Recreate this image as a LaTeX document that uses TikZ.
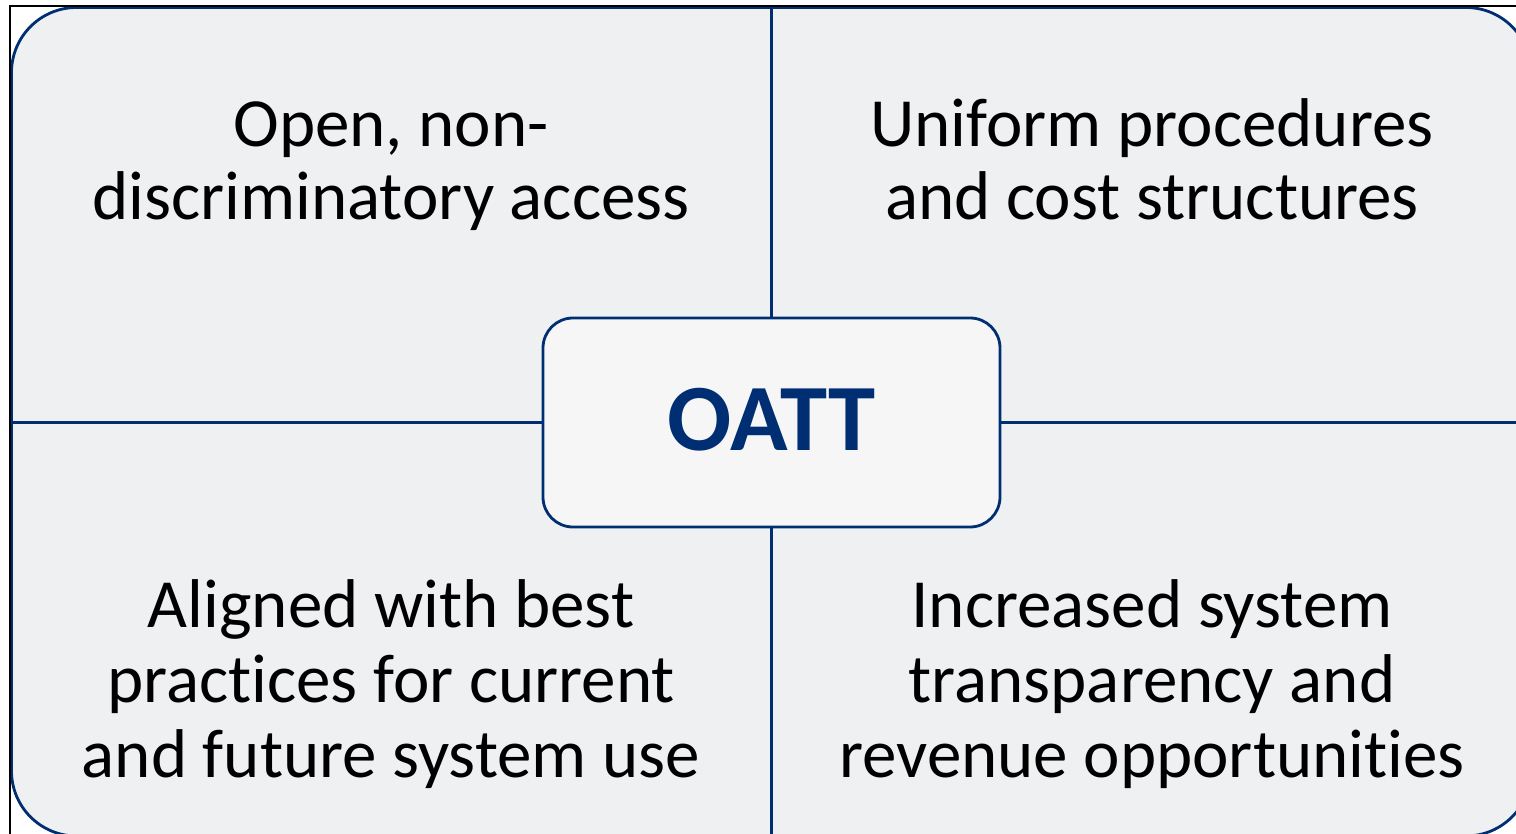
\documentclass[tikz,border=0pt]{standalone}
\usepackage{fontspec}
\setmainfont{Carlito}[Ligatures={NoCommon}]
\definecolor{oattblue}{RGB}{0,46,114}
\definecolor{quadfill}{RGB}{239,240,242}
\definecolor{boxfill}{RGB}{246,246,246}
\begin{document}
\begin{tikzpicture}[x=1pt,y=-1pt,
  frameline/.style={draw=oattblue,line width=2.8pt},
  quadtext/.style={anchor=base,inner sep=0pt,font=\fontsize{69}{75}\selectfont,text=black},
  centerbox/.style={draw=oattblue,line width=2.8pt,fill=boxfill,rounded corners=30pt,
    minimum width=457pt,minimum height=209pt,inner sep=0pt,
    text height=62pt,text depth=7pt,text=oattblue,font=\fontsize{95}{100}\selectfont\bfseries}]
\useasboundingbox (0,0) rectangle (1516,834);
\clip (0,0) rectangle (1516,834);
\fill[white] (0,0) rectangle (1516,834);
% outer frame
\draw[frameline,fill=quadfill,rounded corners=65pt] (11.5,7.5) rectangle (1531,836);
\coordinate (fbl) at (10,834);
\coordinate (ftl) at (10,6);
\coordinate (ftr) at (1516,6);
\draw[black,line width=1.6pt] (fbl) -- (ftl) -- (ftr);
% divider ends
\coordinate (topmid) at (771.5,7.5);
\coordinate (botmid) at (771.5,836);
\coordinate (leftmid) at (11.5,422.5);
\coordinate (rightmid) at (1531,422.5);
% centre
\node[centerbox] (oatt) at (771.5,422.5) {OATT};
\draw[frameline] (topmid) -- (oatt.north);
\draw[frameline] (oatt.south) -- (botmid);
\draw[frameline] (leftmid) -- (oatt.west);
\draw[frameline] (oatt.east) -- (rightmid);
% quadrant texts
\node[quadtext] (tl1) at (391,147) {Open, non-};
\node[quadtext] (tl2) at (391,220) {discriminatory access};
\node[quadtext] (tr1) at (1152,147) {Uniform procedures};
\node[quadtext] (tr2) at (1152,220) {and cost structures};
\node[quadtext] (bl1) at (391,627) {Aligned with best};
\node[quadtext] (bl2) at (391,702) {practices for current};
\node[quadtext] (bl3) at (391,777) {and future system use};
\node[quadtext] (br1) at (1152,627) {Increased system};
\node[quadtext] (br2) at (1152,702) {transparency and};
\node[quadtext] (br3) at (1152,777) {revenue opportunities};
\end{tikzpicture}
\end{document}
